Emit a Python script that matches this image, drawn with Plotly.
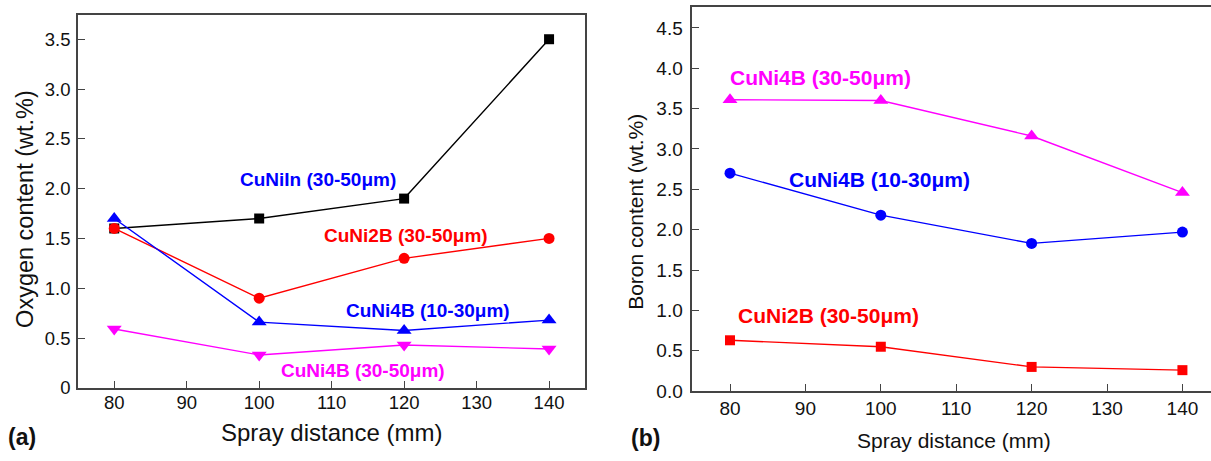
import plotly.graph_objects as go

# ---- data ----
distance = [80, 100, 120, 140]

# panel (a): oxygen content (wt.%)
oxy_cuniin_30_50 = [1.60, 1.70, 1.90, 3.50]
oxy_cuni2b_30_50 = [1.60, 0.90, 1.30, 1.50]
oxy_cuni4b_10_30 = [1.70, 0.66, 0.575, 0.68]
oxy_cuni4b_30_50 = [0.59, 0.33, 0.43, 0.39]

# panel (b): boron content (wt.%)
bor_cuni4b_30_50 = [3.61, 3.60, 3.16, 2.46]
bor_cuni4b_10_30 = [2.70, 2.18, 1.83, 1.97]
bor_cuni2b_30_50 = [0.63, 0.55, 0.30, 0.26]

x_ticks = [80, 90, 100, 110, 120, 130, 140]
oxy_ticks = [0, 0.5, 1.0, 1.5, 2.0, 2.5, 3.0, 3.5]
oxy_ticktext = ["0", "0.5", "1.0", "1.5", "2.0", "2.5", "3.0", "3.5"]
bor_ticks = [0, 0.5, 1.0, 1.5, 2.0, 2.5, 3.0, 3.5, 4.0, 4.5]
bor_ticktext = ["0.0", "0.5", "1.0", "1.5", "2.0", "2.5", "3.0", "3.5", "4.0", "4.5"]

BLACK = "#000000"
RED = "#ff0000"
BLUE = "#0000ff"
MAGENTA = "#ff00ff"
FONT = "Arial, Liberation Sans, sans-serif"

W, H = 1211.0, 461.0

fig = go.Figure()

def add(x, y, color, symbol, size, xa, ya):
    fig.add_trace(go.Scatter(
        x=x, y=y, mode="lines+markers", xaxis=xa, yaxis=ya,
        line=dict(color=color, width=1.4),
        marker=dict(symbol=symbol, size=size, color=color),
        showlegend=False, cliponaxis=False))

add(distance, oxy_cuniin_30_50, BLACK, "square", 10, "x", "y")
add(distance, oxy_cuni2b_30_50, RED, "circle", 11, "x", "y")
add(distance, oxy_cuni4b_10_30, BLUE, "triangle-up", 13, "x", "y")
add(distance, oxy_cuni4b_30_50, MAGENTA, "triangle-down", 13, "x", "y")

add(distance, bor_cuni4b_30_50, MAGENTA, "triangle-up", 13, "x2", "y2")
add(distance, bor_cuni4b_10_30, BLUE, "circle", 11, "x2", "y2")
add(distance, bor_cuni2b_30_50, RED, "square", 10, "x2", "y2")

def axis_style(size):
    return dict(
        showgrid=False, zeroline=False, showline=True, linecolor="#444444", linewidth=1.5,
        ticks="inside", ticklen=7, tickwidth=1.3, tickcolor="#444444",
        tickfont=dict(family=FONT, size=size, color="#111111"),
    )

def ydom(top_px, bottom_px):
    return [1 - bottom_px / H, 1 - top_px / H]

fig.update_layout(
    width=int(W), height=int(H), autosize=False,
    margin=dict(l=0, r=0, t=0, b=0),
    paper_bgcolor="white", plot_bgcolor="white",
    xaxis=dict(domain=[78 / W, 585.3 / W], range=[75, 145], tickvals=x_ticks,
               mirror=True, anchor="y", ticklabelstandoff=-3, **axis_style(18.5)),
    yaxis=dict(domain=ydom(15.7, 397.3), range=[0, 3.74], tickvals=oxy_ticks,
               ticktext=oxy_ticktext, mirror=True, anchor="x", ticklabelstandoff=2,
               **axis_style(18.5)),
    xaxis2=dict(domain=[692.3 / W, 1.0], range=[75, 143.79], tickvals=x_ticks,
                mirror=True, anchor="y2", ticklabelstandoff=-1, **axis_style(19)),
    yaxis2=dict(domain=ydom(6.7, 400.7), range=[0, 4.764], tickvals=bor_ticks,
                ticktext=bor_ticktext, mirror=False, anchor="x2", ticklabelstandoff=4,
                **axis_style(19)),
)

def label(text, x, y, color, xref, yref, size):
    fig.add_annotation(text=text, x=x, y=y, xref=xref, yref=yref, showarrow=False,
                       font=dict(family=FONT, size=size, color=color),
                       xanchor="center", yanchor="middle")

# series labels
label("<b>CuNiIn (30-50μm)</b>", 108.1, 2.09, BLUE, "x", "y", 19)
label("<b>CuNi2B (30-50μm)</b>", 120.3, 1.53, RED, "x", "y", 19)
label("<b>CuNi4B (10-30μm)</b>", 123.25, 0.78, BLUE, "x", "y", 19)
label("<b>CuNi4B (30-50μm)</b>", 114.3, 0.17, MAGENTA, "x", "y", 19)

label("<b>CuNi4B (30-50μm)</b>", 91.94, 3.88, MAGENTA, "x2", "y2", 21)
label("<b>CuNi4B (10-30μm)</b>", 99.8, 2.62, BLUE, "x2", "y2", 21)
label("<b>CuNi2B (30-50μm)</b>", 93.0, 0.936, RED, "x2", "y2", 21)

# axis titles and panel letters (pixel positions converted to paper fractions)
def paper_text(text, px, py, size, angle=0, bold=False):
    fig.add_annotation(text=("<b>%s</b>" % text) if bold else text,
                       x=px / W, y=1 - py / H, xref="paper", yref="paper",
                       showarrow=False, textangle=angle,
                       font=dict(family=FONT, size=size, color="#111111"),
                       xanchor="center", yanchor="middle")

paper_text("Spray distance (mm)", 331.5, 443, 24)
paper_text("Spray distance (mm)", 953.5, 451, 21)
paper_text("Oxygen content (wt.%)", 25, 214, 23.5, angle=-90)
paper_text("Boron content (wt.%)", 636, 217, 21, angle=-90)
paper_text("(a)", 22, 448, 23, bold=True)
paper_text("(b)", 645, 449, 23, bold=True)

fig.write_html("out.html")
